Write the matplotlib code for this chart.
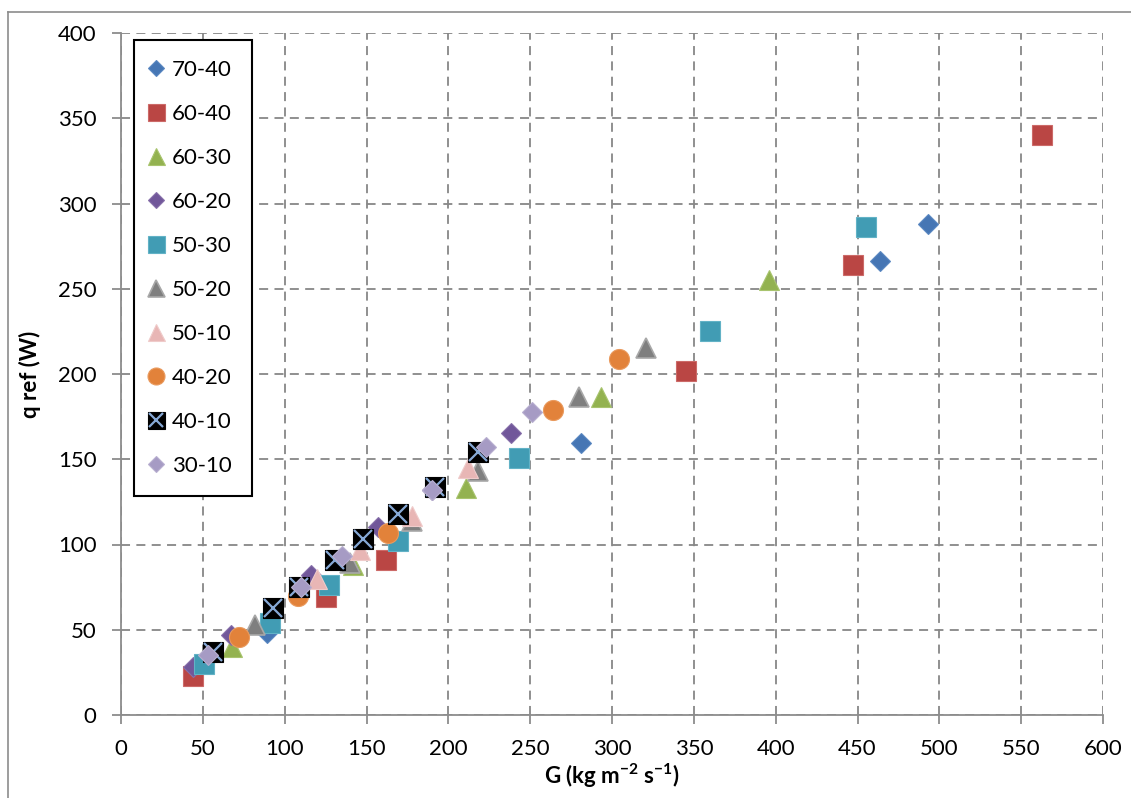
import matplotlib
matplotlib.use("Agg")
import matplotlib.pyplot as plt
from matplotlib.lines import Line2D

plt.rcParams["font.family"] = ["Lato", "DejaVu Sans"]
plt.rcParams["mathtext.fontset"] = "custom"
plt.rcParams["mathtext.rm"] = "Lato"
plt.rcParams["mathtext.bf"] = "Lato:bold"

# data: G (kg m-2 s-1) and q ref (W) for each series
g_7040 = [89, 281, 464, 493]
q_7040 = [48, 159.5, 266, 288]
g_6040 = [44, 125, 162, 345, 447, 563]
q_6040 = [23, 69, 91, 202, 264, 340]
g_6030 = [68, 142, 211, 293, 396]
q_6030 = [40, 88, 133, 186.5, 255]
g_6020 = [44, 67, 116, 157, 190, 238]
q_6020 = [28, 47, 82, 110, 132, 165.5]
g_5030 = [51, 91, 127, 169, 243, 360, 455]
q_5030 = [30, 54, 76, 102, 151, 225, 286]
g_5020 = [82, 140, 178, 218, 280, 321]
q_5020 = [53, 89, 114, 143, 186.5, 215]
g_5010 = [120, 146, 178, 212]
q_5010 = [80, 97, 117, 145]
g_4020 = [72, 108, 163, 264, 304]
q_4020 = [46, 70, 107, 179, 209]
g_4010 = [56, 93, 109, 131, 148, 169, 192, 218]
q_4010 = [37, 63, 75, 91, 103, 118, 134, 154]
g_3010 = [53, 110, 135, 190, 223, 251]
q_3010 = [35, 75, 93, 132, 157, 178]

fig = plt.figure(figsize=(11.31, 7.98), dpi=100)
ax = fig.add_axes([121 / 1131, 1 - 715 / 798, 982 / 1131, 682 / 798])

ms_sq = 14.4
ms_d = 10.0

h1, = ax.plot(g_7040, q_7040, "D", ms=ms_d, color="#4676B4", mec="#5A88C2", mew=0.8, label="70-40")
h2, = ax.plot(g_6040, q_6040, "s", ms=ms_sq, color="#BA4644", mec="#CC6A68", mew=0.8, label="60-40")
h3, = ax.plot(g_6030, q_6030, "^", ms=ms_sq, color="#93B250", mec="#A8C46E", mew=0.8, label="60-30")
h4, = ax.plot(g_6020, q_6020, "D", ms=ms_d, color="#71579A", mec="#8770AA", mew=0.8, label="60-20")
h5, = ax.plot(g_5030, q_5030, "s", ms=ms_sq, color="#419CB4", mec="#62B2C6", mew=0.8, label="50-30")
h6, = ax.plot(g_5020, q_5020, "^", ms=ms_sq, color="#7F7F7F", mec="#A8A8A8", mew=1.2, label="50-20")
h7, = ax.plot(g_5010, q_5010, "^", ms=ms_sq, color="#E8B6B5", mec="#EFCBCA", mew=0.8, label="50-10")
h8, = ax.plot(g_4020, q_4020, "o", ms=ms_sq, color="#E2823A", mec="#E99A5E", mew=0.8, label="40-20")
h9a, = ax.plot(g_4010, q_4010, "s", ms=ms_sq, color="black", mec="black", mew=0.8)
h9b, = ax.plot(g_4010, q_4010, "x", ms=ms_sq - 2, color="#86A9D6", mew=1.6)
h10, = ax.plot(g_3010, q_3010, "D", ms=ms_d, color="#A69BC4", mec="#B8AFD0", mew=0.8, label="30-10")

ax.set_xlim(0, 600)
ax.set_ylim(0, 400)
ax.set_xticks(range(0, 601, 50))
ax.set_yticks(range(0, 401, 50))
ax.grid(True, color="#878787", linestyle=(0, (5, 3.5)), linewidth=1.3)
ax.set_axisbelow(True)
for s in ["top", "right"]:
    ax.spines[s].set_visible(False)
for s in ["left", "bottom"]:
    ax.spines[s].set_color("#8C8C8C")
    ax.spines[s].set_linewidth(1.3)
ax.tick_params(direction="out", length=6.5, width=1.3, color="#8C8C8C",
               labelsize=16, pad=11, labelcolor="black")

ax.set_xlabel(r"G (kg m$^{\mathbf{-2}}$ s$^{\mathbf{-1}}$)", fontsize=16, fontweight="bold", labelpad=2)
ax.set_ylabel("q ref (W)", fontsize=16, fontweight="bold", labelpad=12)

handles = [h1, h2, h3, h4, h5, h6, h7, h8, (h9a, h9b), h10]
labels = ["70-40", "60-40", "60-30", "60-20", "50-30", "50-20", "50-10", "40-20", "40-10", "30-10"]
leg = ax.legend(handles, labels, loc="upper left", bbox_to_anchor=(13 / 982, 675 / 682),
                borderaxespad=0, fontsize=16, fancybox=False, edgecolor="black",
                framealpha=1, markerscale=0.85, numpoints=1, handlelength=0.2,
                handletextpad=0.6, borderpad=0.9, labelspacing=1.08)
leg.get_frame().set_linewidth(1.5)

# outer chart border
fig.add_artist(Line2D([8 / 1131, 8 / 1131], [0, 1 - 12 / 798], transform=fig.transFigure, color="#8C8C8C", lw=1.2))
fig.add_artist(Line2D([8 / 1131, 1], [1 - 12 / 798, 1 - 12 / 798], transform=fig.transFigure, color="#8C8C8C", lw=1.2))

fig.savefig("out.png", dpi=100)
